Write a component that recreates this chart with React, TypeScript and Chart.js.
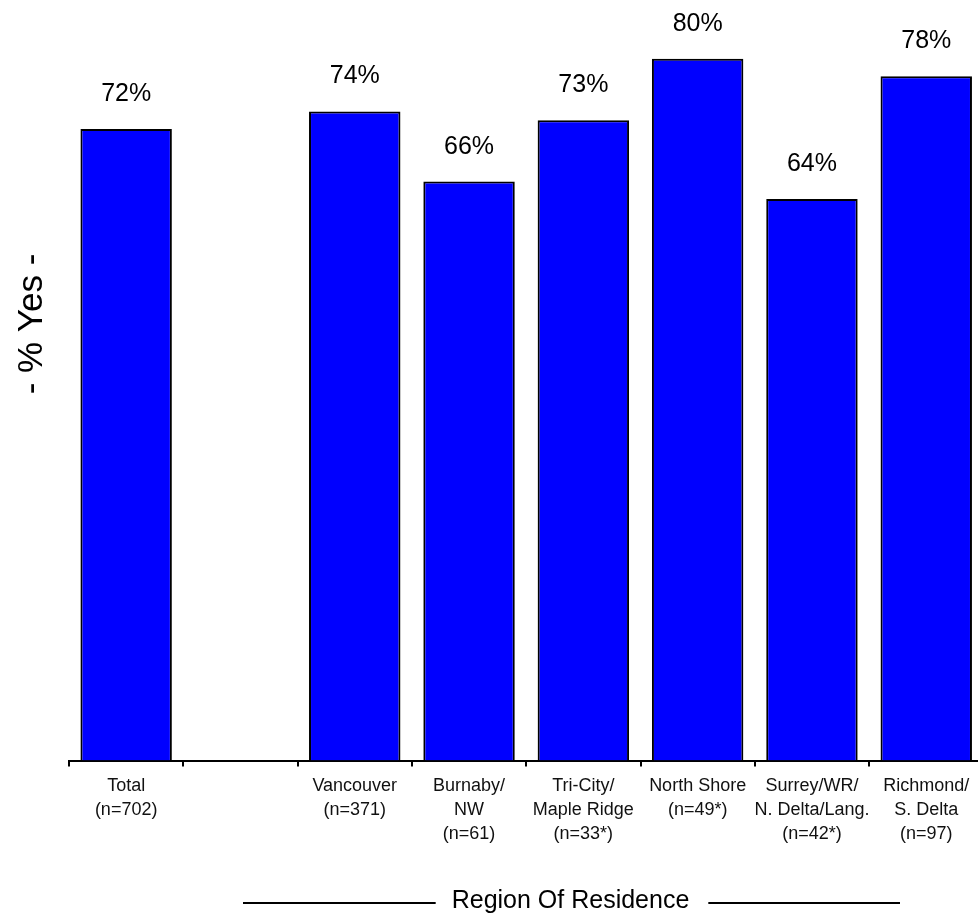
import React, { useEffect, useRef } from "react";
import { Chart, registerables } from "chart.js";

Chart.register(...registerables);

const categories: (string | string[])[] = [
  ["Total", "(n=702)"],
  "",
  ["Vancouver", "(n=371)"],
  ["Burnaby/", "NW", "(n=61)"],
  ["Tri-City/", "Maple Ridge", "(n=33*)"],
  ["North Shore", "(n=49*)"],
  ["Surrey/WR/", "N. Delta/Lang.", "(n=42*)"],
  ["Richmond/", "S. Delta", "(n=97)"],
];
const yesValues: (number | null)[] = [72, null, 74, 66, 73, 80, 64, 78];
const yTitle = "- % Yes -";
const xTitle = "Region Of Residence";

const FONT = "'Liberation Sans', Arial, sans-serif";

const decorPlugin = {
  id: "decor",
  afterDatasetsDraw(chart: any) {
    const ctx = chart.ctx;
    ctx.save();
    // value labels
    const meta = chart.getDatasetMeta(0);
    ctx.fillStyle = "#000";
    ctx.font = `25px ${FONT}`;
    ctx.textAlign = "center";
    ctx.textBaseline = "alphabetic";
    meta.data.forEach((el: any, i: number) => {
      const v = yesValues[i];
      if (v === null || v === undefined) return;
      ctx.fillText(`${v}%`, el.x, el.y - 28);
    });
    // y title
    ctx.save();
    ctx.translate(42, 324);
    ctx.rotate(-Math.PI / 2);
    ctx.font = `35px ${FONT}`;
    ctx.textAlign = "center";
    ctx.textBaseline = "alphabetic";
    ctx.fillText(yTitle, 0, 0);
    ctx.restore();
    // x title with rules
    const cx = 570.5;
    const by = 908;
    ctx.font = `25px ${FONT}`;
    ctx.textAlign = "center";
    ctx.fillText(xTitle, cx, by);
    const w = ctx.measureText(xTitle).width;
    ctx.strokeStyle = "#000";
    ctx.lineWidth = 2;
    ctx.beginPath();
    ctx.moveTo(243, 903);
    ctx.lineTo(cx - w / 2 - 16, 903);
    ctx.moveTo(cx + w / 2 + 19, 903);
    ctx.lineTo(900, 903);
    ctx.stroke();
    ctx.restore();
  },
};

export default function App() {
  const ref = useRef<HTMLCanvasElement | null>(null);
  useEffect(() => {
    if (!ref.current) return;
    const chart = new Chart(ref.current, {
      type: "bar",
      data: {
        labels: categories as any,
        datasets: [
          {
            data: yesValues as any,
            backgroundColor: "#0000FF",
            borderColor: "#000000",
            borderWidth: 2,
            barPercentage: 0.8,
            categoryPercentage: 1.0,
          },
        ],
      },
      options: {
        responsive: false,
        animation: false,
        devicePixelRatio: 1,
        layout: { padding: { left: 69, right: 6.6, top: 0, bottom: 0 } },
        plugins: {
          legend: { display: false },
          tooltip: { enabled: false },
          title: { display: false },
        },
        scales: {
          x: {
            offset: true,
            grid: {
              display: true,
              drawOnChartArea: false,
              drawTicks: true,
              tickLength: 6,
              color: "#000",
              lineWidth: 2,
              offset: true,
            },
            border: { display: true, color: "#000", width: 2 },
            ticks: {
              color: "#111",
              padding: 8,
              maxRotation: 0,
              autoSkip: false,
              font: { family: FONT, size: 18, lineHeight: "24px" } as any,
            },
            afterFit: (scale: any) => {
              scale.height = 157.5;
            },
          },
          y: {
            display: false,
            min: 0,
            max: 86.7,
          },
        },
      },
      plugins: [decorPlugin],
    });
    return () => chart.destroy();
  }, []);
  return (
    <div
      style={{
        position: "fixed",
        left: 0,
        top: 0,
        width: 978,
        height: 918,
        overflow: "hidden",
        background: "#fff",
      }}
    >
      <canvas ref={ref} width={990} height={918} style={{ width: 990, height: 918, display: "block" }} />
    </div>
  );
}
